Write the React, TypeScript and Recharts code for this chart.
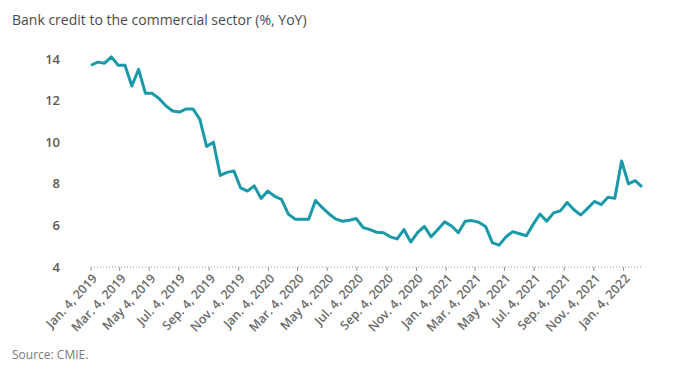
import React from "react";
import { Line, LineChart, XAxis, YAxis } from "recharts";

const DAY = 24 * 60 * 60 * 1000;
const START = Date.UTC(2019, 0, 4);

// Fortnightly reporting dates, first one Jan. 4, 2019
const creditGrowth = [
  13.7, 13.85, 13.8, 14.1, 13.7, 13.7, 12.7, 13.5, 12.35, 12.35,
  12.1, 11.75, 11.5, 11.45, 11.6, 11.6, 11.1, 9.8, 10.0, 8.4,
  8.55, 8.62, 7.8, 7.65, 7.9, 7.3, 7.65, 7.4, 7.25, 6.55,
  6.3, 6.3, 6.3, 7.2, 6.85, 6.55, 6.3, 6.2, 6.25, 6.33,
  5.9, 5.8, 5.67, 5.65, 5.45, 5.35, 5.8, 5.2, 5.65, 5.95,
  5.45, 5.8, 6.17, 5.97, 5.65, 6.2, 6.23, 6.15, 5.95, 5.17,
  5.05, 5.45, 5.7, 5.6, 5.5, 6.05, 6.55, 6.2, 6.6, 6.7,
  7.1, 6.75, 6.5, 6.82, 7.15, 7.0, 7.35, 7.3, 9.1, 8.0,
  8.15, 7.85,
];

const tickDates = [
  [2019, 0], [2019, 2], [2019, 4], [2019, 6], [2019, 8], [2019, 10],
  [2020, 0], [2020, 2], [2020, 4], [2020, 6], [2020, 8], [2020, 10],
  [2021, 0], [2021, 2], [2021, 4], [2021, 6], [2021, 8], [2021, 10],
  [2022, 0],
];
const tickLabels = [
  "Jan. 4, 2019", "Mar. 4, 2019", "May 4, 2019", "Jul. 4, 2019", "Sep. 4, 2019", "Nov. 4, 2019",
  "Jan. 4, 2020", "Mar. 4, 2020", "May 4, 2020", "Jul. 4, 2020", "Sep. 4, 2020", "Nov. 4, 2020",
  "Jan. 4, 2021", "Mar. 4, 2021", "May 4, 2021", "Jul. 4, 2021", "Sep. 4, 2021", "Nov. 4, 2021",
  "Jan. 4, 2022",
];
const yTicks = [4, 6, 8, 10, 12, 14];

const data = creditGrowth.map((value, i) => ({ t: START + i * 14 * DAY, value }));
const xTicks = tickDates.map(([y, m]) => Date.UTC(y, m, 4));
const labelFor = (t: number) => tickLabels[xTicks.indexOf(t)] ?? "";

const FONT = "'Open Sans', sans-serif";
const LINE = "#1a9aa8";

function XTick({ x, y, payload }: any) {
  const ax = x + 7;
  const ay = y + 6;
  return (
    <text
      x={ax}
      y={ay}
      transform={`rotate(-47 ${ax} ${ay})`}
      textAnchor="end"
      fontFamily={FONT}
      fontSize={12.5}
      fontWeight={600}
      fill="#6b6b6b"
    >
      {labelFor(payload.value)}
    </text>
  );
}

export default function App() {
  return (
    <div style={{ position: "absolute", left: 0, top: 0, width: 680, height: 370, background: "#fff", fontFamily: FONT }}>
      <div style={{ position: "absolute", left: 12, top: 10, fontSize: 14, color: "#4a4a4a" }}>
        Bank credit to the commercial sector (%, YoY)
      </div>
      <LineChart
        width={680}
        height={370}
        data={data}
        margin={{ top: 48.6, right: 38, left: 0, bottom: 33 }}
      >
        <XAxis
          dataKey="t"
          type="number"
          scale="time"
          domain={[data[0].t, data[data.length - 1].t]}
          ticks={xTicks}
          interval={0}
          height={70}
          tickSize={4}
          tickMargin={2}
          axisLine={{ stroke: "#9a9a9a", strokeDasharray: "1 2" }}
          tickLine={{ stroke: "#9a9a9a" }}
          tick={<XTick />}
        />
        <YAxis
          domain={[4, 14.5]}
          ticks={yTicks}
          width={91}
          axisLine={false}
          tickLine={false}
          tickSize={0}
          tickMargin={31}
          tick={{ fontFamily: FONT, fontSize: 13, fontWeight: 600, fill: "#5a5a5a" }}
        />
        <Line
          dataKey="value"
          stroke={LINE}
          strokeWidth={3}
          dot={false}
          strokeLinejoin="round"
          isAnimationActive={false}
        />
      </LineChart>
      <div style={{ position: "absolute", left: 12, top: 346, fontSize: 12, color: "#7a7a7a" }}>
        Source: CMIE.
      </div>
    </div>
  );
}
